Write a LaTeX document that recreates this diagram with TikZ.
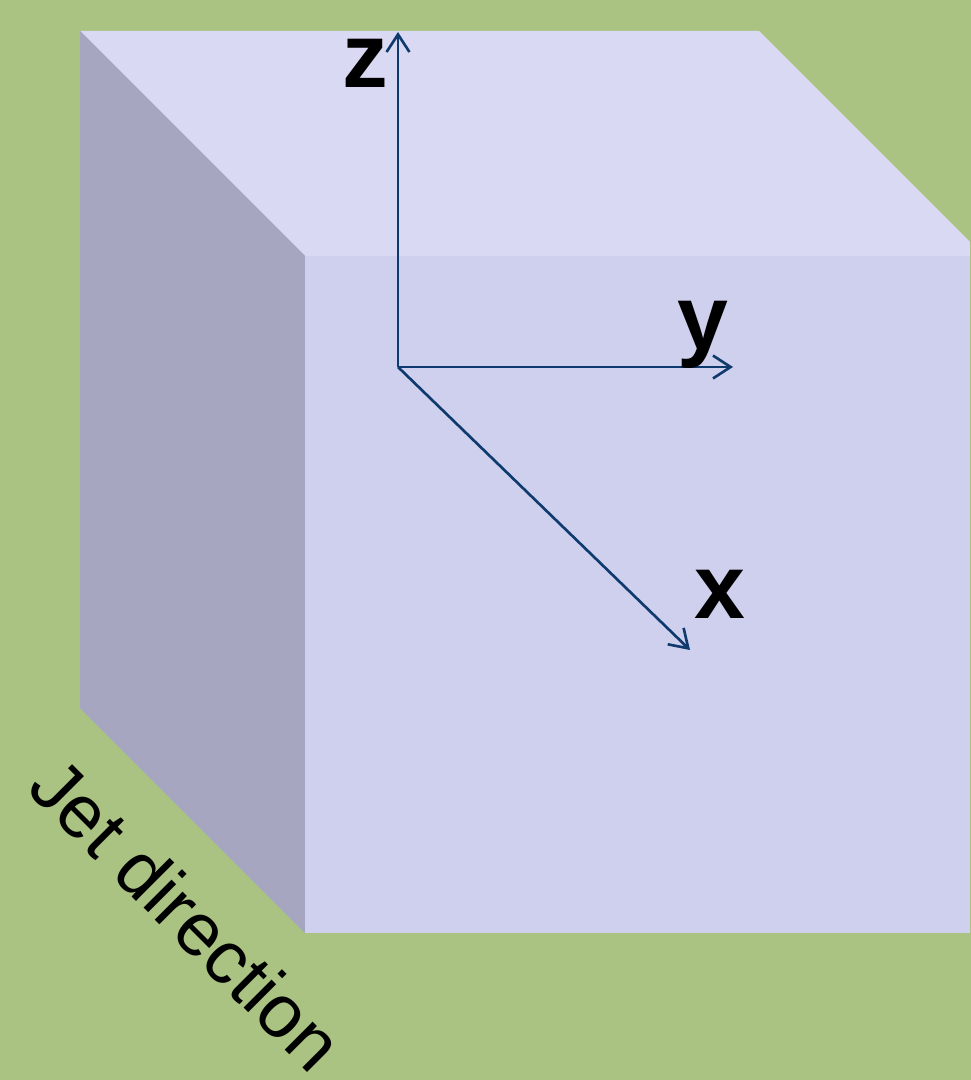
\documentclass[tikz,border=0pt]{standalone}
\usepackage{fontspec}
\setmainfont{Liberation Sans}
\usetikzlibrary{arrows.meta,positioning}
\definecolor{jbgreen}{HTML}{AAC382}
\definecolor{jbtop}{HTML}{D9D9F3}
\definecolor{jbfront}{HTML}{CFCFEE}
\definecolor{jbside}{HTML}{A6A6C1}
\definecolor{jbaxis}{HTML}{0F3A6E}

\begin{document}
\begin{tikzpicture}[
  x=0.01cm,y=-0.01cm,
  axis/.style={jbaxis,line width=0.75pt,-{Straight Barb[length=5pt,width=6.5pt,line width=0.75pt]}},
  axlab/.style={font=\fontsize{26}{30}\selectfont\bfseries,anchor=base,inner sep=0pt},
  jetlab/.style={font=\fontsize{21.3}{24}\selectfont,rotate=-45,inner sep=0pt}
]
% background
\fill[jbgreen] (0,0) rectangle (970,1080);
\useasboundingbox (0,0) rectangle (970,1080);

% cube faces
\fill[jbtop] (80,31) -- (759,31) -- (984,256) -- (305,256) -- cycle;
\fill[jbside] (80,31) -- (305,256) -- (305,933) -- (80,708) -- cycle;
\fill[jbfront] (305,256) rectangle (970,933);
\fill[jbgreen] (970,0) rectangle (990,1080);

% axes
\coordinate (o) at (398,367);
\coordinate (zend) at (398,32);
\coordinate (yend) at (733,367);
\coordinate (xend) at (690,650);
\draw[axis] (o) -- (zend);
\draw[axis] (o) -- (yend);
\draw[axis] (o) -- (xend);

\node[axlab] (zlab) at (365,88) {z};
\node[axlab] (ylab) at (703,350) {y};
\node[axlab] (xlab) at (720,618) {x};

\node[jetlab] (jet) at (187,914) {Jet direction};
\end{tikzpicture}
\end{document}
